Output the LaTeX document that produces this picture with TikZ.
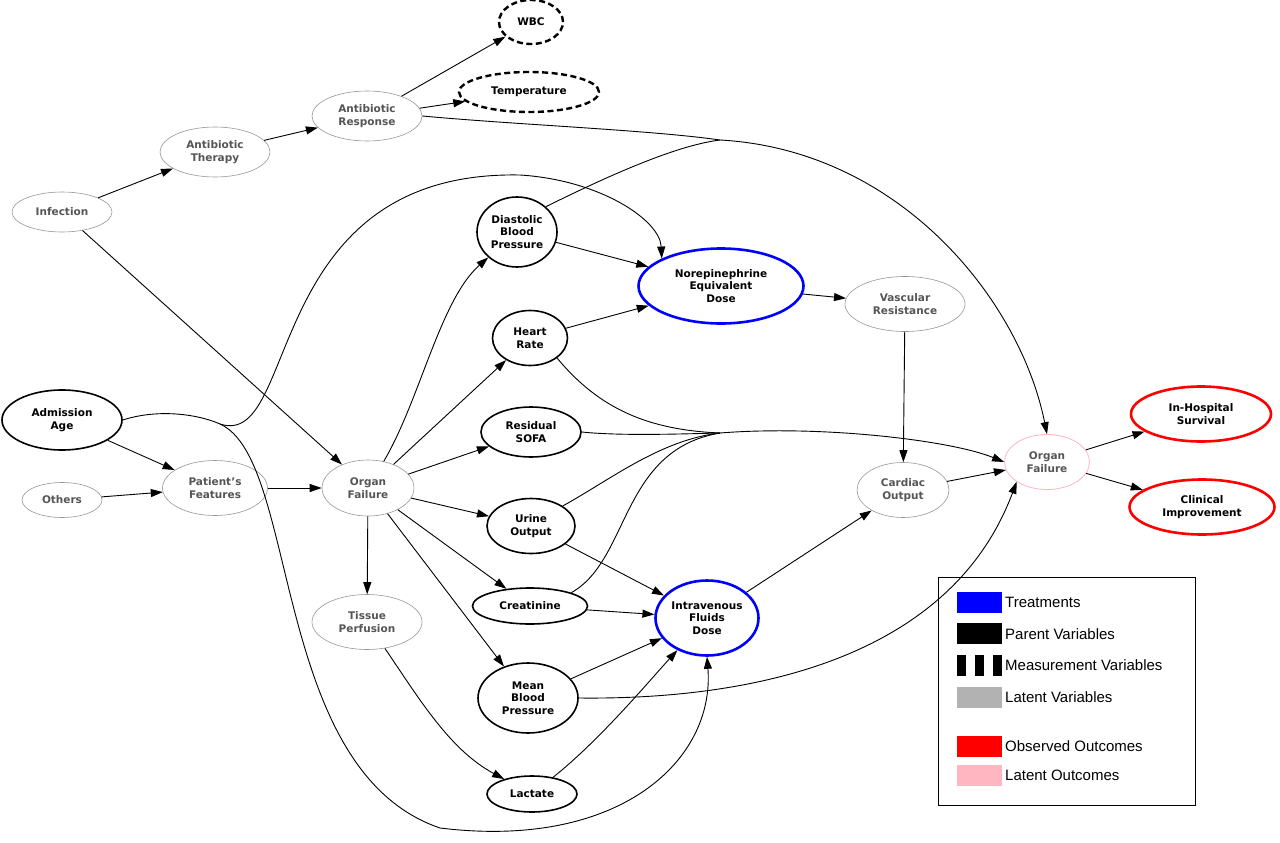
\documentclass[tikz,border=0pt]{standalone}
\usepackage{fontspec}
\setmainfont{DejaVu Sans}
\newfontfamily\legfont{Liberation Sans}
\usetikzlibrary{shapes.geometric,arrows.meta}
\definecolor{lat}{RGB}{150,150,150}
\definecolor{lattxt}{RGB}{85,85,85}
\definecolor{pinkc}{RGB}{255,182,193}
\begin{document}
\begin{tikzpicture}[x=1pt,y=-1pt,
 nd/.style={ellipse,inner sep=0pt,align=center,font=\bfseries\fontsize{10.5}{12.5}\selectfont},
 par/.style={nd,draw=black,line width=1.6pt},
 meas/.style={nd,draw=black,line width=2.4pt,dash pattern=on 6pt off 3.5pt},
 latv/.style={nd,draw=lat,line width=0.6pt,text=lattxt},
 trt/.style={nd,draw=blue,line width=2.6pt},
 obs/.style={nd,draw=red,line width=2.6pt},
 lato/.style={nd,draw=pinkc,line width=0.8pt,text=lattxt},
 e/.style={line width=0.9pt,-{Triangle[length=12pt,width=8pt]}},
 l/.style={line width=0.9pt}]
\useasboundingbox (0,0) rectangle (1280,843);
\node[meas,minimum width=64,minimum height=44] (wbc) at (531,22) {WBC};
\node[meas,minimum width=140,minimum height=40] (temp) at (529,92) {Temperature};
\node[latv,minimum width=110,minimum height=50] (ar) at (367,116) {Antibiotic\\Response};
\node[latv,minimum width=110,minimum height=50] (at) at (215,152) {Antibiotic\\Therapy};
\node[latv,minimum width=100,minimum height=40] (inf) at (62,212) {Infection};
\node[par,minimum width=80,minimum height=70] (dbp) at (517,232) {Diastolic\\Blood\\Pressure};
\node[trt,minimum width=165,minimum height=75] (ned) at (721,286) {Norepinephrine\\Equivalent\\Dose};
\node[latv,minimum width=120,minimum height=55] (vr) at (905,304) {Vascular\\Resistance};
\node[par,minimum width=75,minimum height=55] (hr) at (530,338) {Heart\\Rate};
\node[par,minimum width=120,minimum height=60] (age) at (62,420) {Admission\\Age};
\node[par,minimum width=100,minimum height=50] (sofa) at (531,432) {Residual\\SOFA};
\node[latv,minimum width=105,minimum height=55] (pf) at (215,488) {Patient's\\Features};
\node[latv,minimum width=80,minimum height=35] (oth) at (62,500) {Others};
\node[latv,minimum width=92,minimum height=56] (of) at (368,488) {Organ\\Failure};
\node[lato,minimum width=85,minimum height=55] (of2) at (1047,462) {Organ\\Failure};
\node[obs,minimum width=140,minimum height=55] (ihs) at (1201,414) {In-Hospital\\Survival};
\node[obs,minimum width=145,minimum height=55] (ci) at (1202,507) {Clinical\\Improvement};
\node[latv,minimum width=92,minimum height=55] (co) at (903,490) {Cardiac\\Output};
\node[par,minimum width=88,minimum height=55] (uo) at (531,526) {Urine\\Output};
\node[par,minimum width=115,minimum height=36] (cr) at (530,606) {Creatinine};
\node[trt,minimum width=103,minimum height=75] (ifd) at (707,618) {Intravenous\\Fluids\\Dose};
\node[latv,minimum width=110,minimum height=55] (tp) at (367,622) {Tissue\\Perfusion};
\node[par,minimum width=100,minimum height=70] (mbp) at (528,698) {Mean\\Blood\\Pressure};
\node[par,minimum width=90,minimum height=36] (lac) at (532,794) {Lactate};
\coordinate (j1) at (720,140);
\coordinate (j2) at (720,433);
\coordinate (j3) at (220,424);
% edges
\draw[e] (inf) -- (at);
\draw[e] (at) -- (ar);
\draw[e] (ar) -- (wbc);
\draw[e] (ar) -- (temp);
\draw[l] (ar.east) .. controls (520,125) and (650,130) .. (j1);
\draw[l] (dbp.north east) .. controls (620,170) and (680,145) .. (j1);
\draw[e] (j1) .. controls (900,150) and (1020,300) .. (of2.north);
\draw[e] (inf) -- (of);
\draw[l] (age.east) .. controls (160,408) and (200,415) .. (j3);
\draw[e] (j3) .. controls (300,450) and (260,170) .. (520,175) .. controls (600,180) and (660,220) .. (ned.north west);
\draw[e] (j3) .. controls (300,460) and (270,770) .. (440,828) .. controls (620,850) and (715,760) .. (ifd.south);
\draw[e] (age) -- (pf);
\draw[e] (oth) -- (pf);
\draw[e] (pf) -- (of);
\draw[e] (of) .. controls (420,400) and (440,300) .. (dbp);
\draw[e] (of) -- (hr);
\draw[e] (of) -- (sofa);
\draw[e] (of) -- (uo);
\draw[e] (of) -- (cr);
\draw[e] (of) -- (mbp);
\draw[e] (of) -- (tp);
\draw[e] (dbp) -- (ned);
\draw[e] (hr) -- (ned);
\draw[e] (ned) -- (vr);
\draw[e] (vr) -- (co);
\draw[e] (co) -- (of2);
\draw[e] (ifd) -- (co);
\draw[l] (hr.south east) .. controls (600,410) and (650,430) .. (j2);
\draw[l] (sofa.east) .. controls (620,436) and (680,434) .. (j2);
\draw[l] (uo.north east) .. controls (610,480) and (660,440) .. (j2);
\draw[l] (cr.north east) .. controls (630,560) and (620,450) .. (j2);
\draw[e] (j2) .. controls (820,425) and (950,440) .. (of2.west);
\draw[e] (uo) -- (ifd);
\draw[e] (cr) -- (ifd);
\draw[e] (mbp) -- (ifd);
\draw[e] (lac) .. controls (600,740) and (650,680) .. (ifd);
\draw[e] (tp) .. controls (420,700) and (450,750) .. (lac);
\draw[e] (mbp.east) .. controls (750,700) and (950,660) .. (of2.south west);
\draw[e] (of2) -- (ihs);
\draw[e] (of2) -- (ci);
% legend
\node[draw,line width=1pt,minimum width=257,minimum height=228,anchor=north west] (leg) at (938,577) {};
\begin{scope}[every node/.style={anchor=west,font=\legfont\fontsize{15}{17}\selectfont,inner sep=0pt}]
\fill[blue] (957,592) rectangle (1002,613); \node (t1) at (1005,602) {Treatments};
\fill[black] (957,623) rectangle (1002,644); \node (t2) at (1005,634) {Parent Variables};
\fill[black] (957,655) rectangle (966,676); \fill (975,655) rectangle (984,676); \fill (993,655) rectangle (1002,676);
\node (t3) at (1005,665) {Measurement Variables};
\fill[black!30] (957,687) rectangle (1002,708); \node (t4) at (1005,697) {Latent Variables};
\fill[red] (957,736) rectangle (1002,757); \node (t5) at (1005,746) {Observed Outcomes};
\fill[pinkc] (957,765) rectangle (1002,786); \node (t6) at (1005,775) {Latent Outcomes};
\end{scope}
\end{tikzpicture}
\end{document}
